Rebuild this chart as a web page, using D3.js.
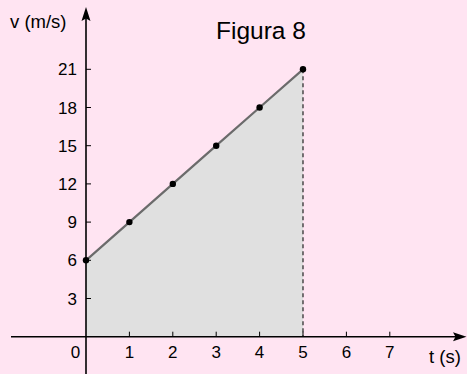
<!DOCTYPE html>
<html>
<head>
<meta charset="utf-8">
<script src="https://cdn.jsdelivr.net/npm/d3@7"></script>
<style>
  html, body { margin: 0; padding: 0; background: #ffe4f2; }
  svg { display: block; }
</style>
</head>
<body>
<div id="chart"></div>
<script>
// data
var times = [0, 1, 2, 3, 4, 5];
var speeds = [6, 9, 12, 15, 18, 21];
var xTicks = [1, 2, 3, 4, 5, 6, 7];
var yTicks = [3, 6, 9, 12, 15, 18, 21];
var title = 'Figura 8';
var xLabel = 't (s)';
var yLabel = 'v (m/s)';

var attrs = {
    svgWidth: 467,
    svgHeight: 374,
    font: '"Liberation Sans", Arial, Helvetica, sans-serif',
    background: '#ffe4f2',
    areaFill: '#e0e0e0',
    lineColor: '#6b6b6b',
    axisColor: '#000'
};

var svg = d3.select('#chart').append('svg')
    .attr('width', attrs.svgWidth)
    .attr('height', attrs.svgHeight)
    .attr('font-family', attrs.font);

svg.append('rect')
    .attr('width', attrs.svgWidth)
    .attr('height', attrs.svgHeight)
    .attr('fill', attrs.background);

// scales
var x = d3.scaleLinear().domain([0, 7]).range([86, 389.8]);
var y = d3.scaleLinear().domain([0, 21]).range([336.7, 69.3]);

var pts = times.map((t, i) => ({ t: t, v: speeds[i] }));

// shaded area under the line
svg.append('path')
    .datum(pts)
    .attr('fill', attrs.areaFill)
    .attr('d', d3.area().x(d => x(d.t)).y0(y(0)).y1(d => y(d.v)));

// dashed drop line at t = 5
var last = pts[pts.length - 1];
svg.append('line')
    .attr('x1', x(last.t)).attr('x2', x(last.t))
    .attr('y1', y(last.v)).attr('y2', y(0))
    .attr('stroke', '#222')
    .attr('stroke-width', 1.2)
    .attr('stroke-dasharray', '4,3');

// axes
var x0 = x(0), yBase = y(0);
svg.append('line')
    .attr('x1', 11).attr('x2', 456)
    .attr('y1', yBase).attr('y2', yBase)
    .attr('stroke', attrs.axisColor).attr('stroke-width', 1.6);
svg.append('line')
    .attr('x1', x0).attr('x2', x0)
    .attr('y1', 18).attr('y2', attrs.svgHeight)
    .attr('stroke', attrs.axisColor).attr('stroke-width', 1.6);

// arrowheads
svg.append('path')
    .attr('d', 'M' + x0 + ',7 L' + (x0 + 4.5) + ',21 L' + x0 + ',18.5 L' + (x0 - 4.5) + ',21 Z')
    .attr('fill', attrs.axisColor);
svg.append('path')
    .attr('d', 'M466.5,' + yBase + ' L453,' + (yBase - 4.5) + ' L455.5,' + yBase + ' L453,' + (yBase + 4.5) + ' Z')
    .attr('fill', attrs.axisColor);

// ticks
svg.selectAll('.xtick').data(xTicks).enter().append('line')
    .attr('class', 'xtick')
    .attr('x1', d => x(d)).attr('x2', d => x(d))
    .attr('y1', yBase).attr('y2', yBase - 5)
    .attr('stroke', attrs.axisColor).attr('stroke-width', 1);
svg.selectAll('.ytick').data(yTicks).enter().append('line')
    .attr('class', 'ytick')
    .attr('x1', x0).attr('x2', x0 + 5)
    .attr('y1', d => y(d)).attr('y2', d => y(d))
    .attr('stroke', attrs.axisColor).attr('stroke-width', 1);

// tick labels
svg.selectAll('.xlab').data(xTicks).enter().append('text')
    .attr('class', 'xlab')
    .attr('x', d => x(d)).attr('y', 358)
    .attr('text-anchor', 'middle')
    .attr('font-size', 17)
    .text(d => d);
svg.append('text')
    .attr('x', x0 - 10.5).attr('y', 358)
    .attr('text-anchor', 'middle')
    .attr('font-size', 17)
    .text('0');
svg.selectAll('.ylab').data(yTicks).enter().append('text')
    .attr('class', 'ylab')
    .attr('x', 77).attr('y', d => y(d) + 6)
    .attr('text-anchor', 'end')
    .attr('font-size', 17)
    .text(d => d);

// line and points
svg.append('path')
    .datum(pts)
    .attr('fill', 'none')
    .attr('stroke', attrs.lineColor)
    .attr('stroke-width', 2.2)
    .attr('d', d3.line().x(d => x(d.t)).y(d => y(d.v)));
svg.selectAll('.pt').data(pts).enter().append('circle')
    .attr('class', 'pt')
    .attr('cx', d => x(d.t)).attr('cy', d => y(d.v))
    .attr('r', 3.2)
    .attr('fill', '#000');

// labels
svg.append('text')
    .attr('x', 10).attr('y', 28)
    .attr('font-size', 18.5)
    .text(yLabel);
svg.append('text')
    .attr('x', 429).attr('y', 363)
    .attr('font-size', 18.5)
    .text(xLabel);
svg.append('text')
    .attr('x', 261).attr('y', 39)
    .attr('text-anchor', 'middle')
    .attr('font-size', 24.5)
    .text(title);
</script>
</body>
</html>
